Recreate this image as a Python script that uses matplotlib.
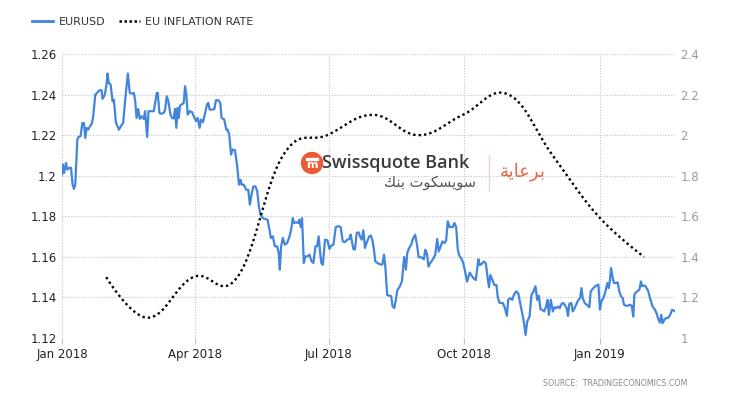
import numpy as np
import pandas as pd
import matplotlib
matplotlib.use("Agg")
import matplotlib.pyplot as plt
import matplotlib.dates as mdates
from matplotlib.lines import Line2D
from matplotlib.patches import Ellipse, Rectangle
from matplotlib.ticker import FuncFormatter

# -----------------------------------------------------
# DATA
# -----------------------------------------------------
start = pd.Timestamp("2018-01-01")

# EURUSD daily-ish closes, x = days after 1 Jan 2018
eur_days = [
    0.0, 0.5, 1.4, 2.7, 3.6, 5.0, 6.1, 7.2, 8.1, 9.0, 10.4, 11.1, 12.6, 13.8, 14.9,
    15.8, 16.7, 17.8, 19.0, 20.3, 21.2, 22.6, 23.5, 24.6, 25.7, 26.9, 27.5, 29.1, 30.2,
    30.9, 31.8, 33.0, 34.3, 35.2, 36.6, 37.5, 38.6, 40.0, 41.5, 42.9, 43.8, 44.7, 46.0,
    47.2, 48.8, 49.7, 50.6, 51.7, 52.8, 53.9, 55.5, 56.4, 57.8, 58.7,
    60.5, 62.3, 63.2, 64.3, 65.0, 66.1, 67.3, 69.1, 70.0, 71.1, 72.2, 73.6, 74.7, 75.8,
    76.7, 77.6, 78.5, 79.2, 80.1, 81.2, 82.6, 83.5, 84.4, 85.3, 86.7, 88.3, 89.4, 91.0,
    92.1, 93.4, 94.3, 95.7, 97.1, 98.4, 99.3, 100.2, 102.0, 103.4, 104.5, 106.1, 107.4,
    108.3, 110.1, 111.5, 112.4, 113.5, 114.7, 115.8, 117.4,
    118.9, 120.1, 121.2, 121.9, 123.4, 125.0, 126.4, 127.5, 128.6, 129.8, 131.3, 132.5,
    133.6, 134.7, 136.3, 138.1, 139.5, 140.8, 141.7, 143.1, 144.4, 146.0, 147.1, 147.8,
    148.7, 149.9, 151.2, 152.8, 154.4, 155.7, 156.6, 157.5, 158.9, 160.2, 161.1, 162.0,
    162.9, 164.1, 165.2, 166.6, 167.9, 169.3, 170.6, 172.0, 173.1, 174.2, 175.1, 176.0,
    177.0,
    178.5, 180.1, 181.5, 182.6, 184.2, 185.8, 187.6, 189.1, 190.5, 191.8, 193.7, 195.0,
    195.9, 197.7, 198.8, 200.0, 201.3, 202.2, 203.4, 204.5, 205.6, 206.7, 208.5, 209.7,
    210.8, 211.7, 212.6, 214.0, 216.2, 217.4, 218.5, 219.4, 220.7, 222.1, 223.4, 224.3,
    225.5, 226.6, 227.5, 229.3, 230.7, 232.2, 233.4, 234.3, 235.6,
    237.0, 238.1, 239.7, 241.1, 242.0, 243.8, 245.6, 246.5, 247.6, 248.7, 250.1, 251.7,
    253.3, 254.6, 255.7, 256.9, 258.2, 259.6, 260.7, 261.8, 263.0, 264.1, 265.2, 266.3,
    267.5, 268.6, 269.7, 270.9, 272.2, 273.1, 274.0, 274.9, 275.8, 276.7, 278.1, 279.4,
    280.8, 281.7, 282.6, 283.5, 284.8, 286.2, 287.6, 288.9, 289.8, 290.7, 292.1, 293.4,
    294.8, 295.7, 296.8,
    299.2, 300.6, 301.9, 302.8, 304.2, 305.5, 306.7, 308.2, 309.6, 310.5, 311.8, 313.2,
    314.6, 315.7, 317.3, 318.6, 320.0, 321.3, 322.5, 323.6, 324.7, 325.8, 327.2, 328.5,
    329.5, 330.4, 331.7, 333.1, 334.2, 335.3, 336.7, 337.8, 339.0, 340.3, 341.4, 342.5,
    343.4, 344.3, 345.7, 346.6, 347.5, 348.9, 350.2, 351.6, 352.5, 353.4, 354.7,
    356.1, 357.9, 358.8, 360.6, 362.4, 364.0, 365.1, 366.0, 367.4, 368.5, 370.1, 371.0,
    371.9, 372.6, 373.5, 374.6, 376.0, 377.1, 378.2, 379.4, 380.5, 381.4, 382.7, 384.1,
    385.4, 386.6, 387.7, 388.4, 389.5, 390.4, 391.8, 392.9, 393.6, 394.5, 395.8, 396.7,
    397.9, 399.0, 400.8, 402.4, 403.5, 404.9, 405.8, 406.7, 407.6, 408.7, 409.8, 410.9,
    412.1, 413.2, 413.9, 415.0, 416.0,
]
eur_vals = [
    1.2006, 1.2055, 1.2014, 1.2063, 1.2030, 1.2039, 1.2039, 1.1957, 1.1935, 1.1957, 1.2178,
    1.2190, 1.2195, 1.2260, 1.2260, 1.2186, 1.2236, 1.2227, 1.2244, 1.2257, 1.2293, 1.2400,
    1.2405, 1.2416, 1.2421, 1.2421, 1.2379, 1.2400, 1.2449, 1.2504, 1.2457, 1.2449, 1.2367,
    1.2375, 1.2260, 1.2247, 1.2227, 1.2244, 1.2260, 1.2375, 1.2441, 1.2504, 1.2408, 1.2405,
    1.2408, 1.2367, 1.2285, 1.2329, 1.2280, 1.2293, 1.2280, 1.2318, 1.2191, 1.2318,
    1.2318, 1.2318, 1.2359, 1.2408, 1.2408, 1.2310, 1.2305, 1.2310, 1.2326, 1.2392, 1.2367,
    1.2301, 1.2285, 1.2282, 1.2329, 1.2236, 1.2334, 1.2285, 1.2346, 1.2351, 1.2359, 1.2441,
    1.2400, 1.2301, 1.2318, 1.2313, 1.2293, 1.2269, 1.2285, 1.2236, 1.2277, 1.2264, 1.2310,
    1.2351, 1.2359, 1.2326, 1.2326, 1.2329, 1.2372, 1.2372, 1.2359, 1.2285, 1.2277, 1.2227,
    1.2227, 1.2203, 1.2104, 1.2129, 1.2126,
    1.2046, 1.1956, 1.1980, 1.1956, 1.1956, 1.1931, 1.1931, 1.1857, 1.1906, 1.1947, 1.1947,
    1.1923, 1.1849, 1.1808, 1.1791, 1.1786, 1.1783, 1.1734, 1.1693, 1.1701, 1.1652, 1.1652,
    1.1619, 1.1537, 1.1652, 1.1693, 1.1660, 1.1668, 1.1701, 1.1742, 1.1791, 1.1767, 1.1770,
    1.1767, 1.1783, 1.1747, 1.1791, 1.1570, 1.1602, 1.1602, 1.1611, 1.1578, 1.1570, 1.1652,
    1.1652, 1.1701, 1.1627, 1.1570, 1.1561,
    1.1685, 1.1682, 1.1639, 1.1655, 1.1660, 1.1747, 1.1751, 1.1747, 1.1677, 1.1672, 1.1685,
    1.1688, 1.1710, 1.1639, 1.1636, 1.1718, 1.1721, 1.1701, 1.1685, 1.1731, 1.1644, 1.1669,
    1.1701, 1.1705, 1.1677, 1.1636, 1.1578, 1.1570, 1.1562, 1.1562, 1.1611, 1.1554, 1.1411,
    1.1409, 1.1406, 1.1356, 1.1348, 1.1389, 1.1435, 1.1455, 1.1480, 1.1600, 1.1537, 1.1619,
    1.1644,
    1.1660, 1.1688, 1.1709, 1.1651, 1.1598, 1.1598, 1.1588, 1.1635, 1.1618, 1.1552, 1.1572,
    1.1588, 1.1610, 1.1688, 1.1626, 1.1651, 1.1676, 1.1668, 1.1681, 1.1775, 1.1747, 1.1747,
    1.1747, 1.1767, 1.1747, 1.1635, 1.1605, 1.1593, 1.1572, 1.1544, 1.1511, 1.1478, 1.1502,
    1.1522, 1.1506, 1.1494, 1.1486, 1.1536, 1.1588, 1.1560, 1.1565, 1.1577, 1.1569, 1.1494,
    1.1450, 1.1511, 1.1486, 1.1461, 1.1461, 1.1403, 1.1374,
    1.1372, 1.1347, 1.1309, 1.1388, 1.1397, 1.1388, 1.1413, 1.1430, 1.1421, 1.1388, 1.1339,
    1.1289, 1.1215, 1.1281, 1.1306, 1.1413, 1.1430, 1.1455, 1.1388, 1.1408, 1.1342, 1.1339,
    1.1331, 1.1355, 1.1388, 1.1314, 1.1388, 1.1331, 1.1352, 1.1347, 1.1355, 1.1347, 1.1369,
    1.1372, 1.1359, 1.1347, 1.1309, 1.1369, 1.1372, 1.1331, 1.1342, 1.1364, 1.1385, 1.1397,
    1.1446, 1.1397, 1.1372,
    1.1364, 1.1352, 1.1430, 1.1446, 1.1458, 1.1463, 1.1339, 1.1380, 1.1397, 1.1421, 1.1471,
    1.1446, 1.1488, 1.1545, 1.1504, 1.1471, 1.1471, 1.1474, 1.1430, 1.1405, 1.1397, 1.1364,
    1.1359, 1.1359, 1.1364, 1.1359, 1.1306, 1.1413, 1.1425, 1.1430, 1.1438, 1.1479, 1.1455,
    1.1458, 1.1458, 1.1446, 1.1430, 1.1397, 1.1355, 1.1339, 1.1322, 1.1289, 1.1276, 1.1314,
    1.1273, 1.1289, 1.1298, 1.1298, 1.1306, 1.1322, 1.1339, 1.1336, 1.1331,
]

# EU inflation rate, monthly (plotted at month end)
infl_dates = ["2018-01-31", "2018-02-28", "2018-03-31", "2018-04-30", "2018-05-31",
              "2018-06-30", "2018-07-31", "2018-08-31", "2018-09-30", "2018-10-31",
              "2018-11-30", "2018-12-31", "2019-01-31"]
infl_vals = [1.3, 1.1, 1.3, 1.3, 1.9, 2.0, 2.1, 2.0, 2.1, 2.2, 1.9, 1.6, 1.4]

x_ticks = ["2018-01-01", "2018-04-01", "2018-07-01", "2018-10-01", "2019-01-01"]
left_ticks = [1.12, 1.14, 1.16, 1.18, 1.2, 1.22, 1.24, 1.26]
right_ticks = [1.0, 1.2, 1.4, 1.6, 1.8, 2.0, 2.2, 2.4]

BLUE = "#4285dc"


# spline like the web chart draws it (bezier through the monthly points)
def spline(xs, ys, steps=30):
    n = len(xs)
    left = [(xs[i], ys[i]) for i in range(n)]
    right = [(xs[i], ys[i]) for i in range(n)]
    for i in range(1, n - 1):
        x0, y0, x1, y1, x2, y2 = xs[i-1], ys[i-1], xs[i], ys[i], xs[i+1], ys[i+1]
        lx, ly = (1.5 * x1 + x0) / 2.5, (1.5 * y1 + y0) / 2.5
        rx, ry = (1.5 * x1 + x2) / 2.5, (1.5 * y1 + y2) / 2.5
        corr = (ry - ly) * (rx - x1) / (rx - lx) + y1 - ry
        left[i] = (lx, ly + corr)
        right[i] = (rx, ry + corr)
    t = np.linspace(0, 1, steps)[1:]
    ox, oy = [xs[0]], [ys[0]]
    for i in range(1, n):
        p0, p1, p2, p3 = (xs[i-1], ys[i-1]), right[i-1], left[i], (xs[i], ys[i])
        a, b, c, d = (1-t)**3, 3*(1-t)**2*t, 3*(1-t)*t**2, t**3
        ox.extend(a*p0[0] + b*p1[0] + c*p2[0] + d*p3[0])
        oy.extend(a*p0[1] + b*p1[1] + c*p2[1] + d*p3[1])
    return np.array(ox), np.array(oy)


# -----------------------------------------------------
# FIGURE
# -----------------------------------------------------
fig = plt.figure(figsize=(7.3, 4.0), dpi=100)
ax = fig.add_axes([62/730, 1 - 338/400, (675 - 62)/730, (338 - 54)/400])
ax2 = ax.twinx()

eur_x = start + pd.to_timedelta(eur_days, unit="D")
ax.plot(eur_x, eur_vals, color=BLUE, lw=1.6, zorder=3, solid_joinstyle="round")

infl_num = [(pd.Timestamp(d) - start).days for d in infl_dates]
sx, sy = spline(infl_num, infl_vals)
ax2.plot(start + pd.to_timedelta(sx, unit="D"), sy, color="black", lw=1.7,
         ls=(0, (1, 1.3)), zorder=3)

xmin, xmax = start, start + pd.Timedelta(days=416)
ax.set_xlim(xmin, xmax)
ax.set_ylim(1.12, 1.26)
ax2.set_ylim(1.0, 2.4)

ax.set_xticks([pd.Timestamp(d) for d in x_ticks])
ax.xaxis.set_major_formatter(mdates.DateFormatter("%b %Y"))
ax.set_yticks(left_ticks)
ax2.set_yticks(right_ticks)
fmt = FuncFormatter(lambda v, p: f"{round(v, 4):g}")
ax.yaxis.set_major_formatter(fmt)
ax2.yaxis.set_major_formatter(fmt)

ax.grid(True, ls=(0, (1, 1.5)), color="#c4c4c4", lw=0.8)
ax.set_axisbelow(True)
for a in (ax, ax2):
    for s in a.spines.values():
        s.set_visible(False)

ax.tick_params(axis="x", length=4, color="#c4c4c4", width=0.8, pad=3,
               labelsize=8.5, labelcolor="#222222")
ax.tick_params(axis="y", length=0, pad=4, labelsize=8.5, labelcolor="#222222")
ax2.tick_params(axis="y", length=0, pad=4, labelsize=8.5, labelcolor="#999999")

# legend
handles = [Line2D([], [], color=BLUE, lw=2),
           Line2D([], [], color="black", lw=1.8, ls=(0, (1, 1)))]
fig.legend(handles, ["EURUSD", "EU INFLATION RATE"], loc="center left",
           bbox_to_anchor=(22/730, 1 - 22/400), ncol=2, frameon=False,
           fontsize=8, handlelength=1.9, handletextpad=0.5, columnspacing=1.2,
           labelcolor="#333333")

# sponsor watermark
fig.add_artist(Ellipse((312/730, 1 - 163/400), 21/730, 21/400,
                       transform=fig.transFigure, color="#ec5a35", zorder=1))
fig.add_artist(Rectangle((306/730, 1 - 160/400), 12/730, 2/400,
                         transform=fig.transFigure, color="white", zorder=2))
fig.text(312/730, 1 - 165/400, "m", ha="center", va="center", color="white",
         fontsize=8, fontweight="bold", zorder=2)
fig.text(322/730, 1 - 163/400, "Swissquote Bank", ha="left", va="center",
         fontsize=13, color="#3a3a3a", family="Open Sans", fontweight="semibold")
fig.text(476/730, 1 - 183/400, "\uFEDA\uFEE8\uFE91 \uFE95\uFEEE\uFEDC\uFEB4\uFEF3\uFEEE\uFEB3",
         ha="right", va="center", fontsize=10.5, color="#555555", family="DejaVu Sans")
fig.add_artist(Line2D([489/730, 489/730], [1 - 155/400, 1 - 190/400],
                      transform=fig.transFigure, color="#f5cfc4", lw=1))
fig.text(500/730, 1 - 172/400, "\uFE94\uFEF3\uFE8E\uFECB\uFEAE\uFE91",
         ha="left", va="center", fontsize=13, color="#e8674a", family="DejaVu Sans")

fig.text(687/730, 1 - 383/400, "SOURCE:  TRADINGECONOMICS.COM", ha="right",
         va="center", fontsize=5.7, color="#888888")

fig.savefig("out.png", dpi=100)
